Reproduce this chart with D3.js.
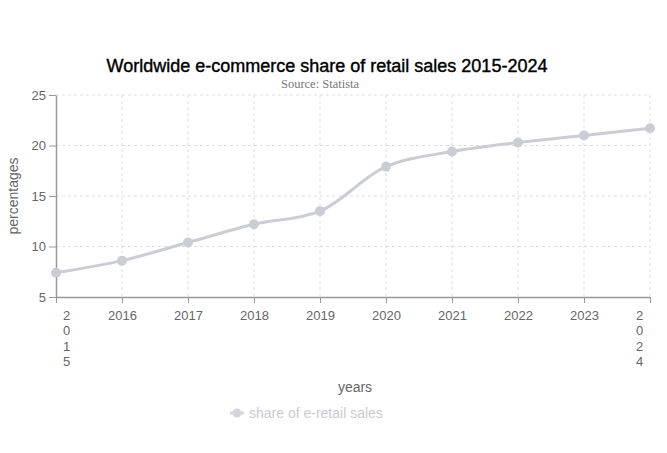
<!DOCTYPE html>
<html>
<head>
<meta charset="utf-8">
<script src="https://cdn.jsdelivr.net/npm/d3@7"></script>
<style>
  body { margin: 0; background: #fff; }
  svg { font-family: "Liberation Sans", Arial, sans-serif; }
</style>
</head>
<body>
<div id="chart"></div>
<script>
// Data
const years = ["2015", "2016", "2017", "2018", "2019", "2020", "2021", "2022", "2023", "2024"];
const share = [7.4, 8.6, 10.4, 12.2, 13.5, 17.9, 19.4, 20.3, 21.0, 21.7];
const yTicks = [5, 10, 15, 20, 25];

const W = 667, H = 453;
const margin = {top: 95, right: 17, bottom: 156, left: 56};

const svg = d3.select("#chart")
  .append("svg")
  .attr("width", W)
  .attr("height", H);

// Scales
const x = d3.scalePoint()
  .domain(years)
  .range([margin.left, W - margin.right]);
const y = d3.scaleLinear()
  .domain([5, 25])
  .range([H - margin.bottom, margin.top]);

// Grid
const grid = svg.append("g");
grid.selectAll("line.v")
  .data(years.slice(1))
  .join("line")
  .attr("x1", d => x(d)).attr("x2", d => x(d))
  .attr("y1", y(25)).attr("y2", y(5))
  .attr("stroke", "#ddd")
  .attr("stroke-dasharray", "3,3");
grid.selectAll("line.h")
  .data(yTicks.slice(1))
  .join("line")
  .attr("x1", x(years[0])).attr("x2", x(years[years.length - 1]))
  .attr("y1", d => y(d)).attr("y2", d => y(d))
  .attr("stroke", "#ddd")
  .attr("stroke-dasharray", "3,3");

// Axes
const xAxis = svg.append("g")
  .attr("transform", `translate(0,${y(5)})`)
  .call(d3.axisBottom(x).tickSize(6).tickSizeOuter(0));
const yAxis = svg.append("g")
  .attr("transform", `translate(${margin.left},0)`)
  .call(d3.axisLeft(y).tickValues(yTicks).tickSize(7).tickSizeOuter(0));

[xAxis, yAxis].forEach(g => {
  g.select(".domain").attr("stroke", "#999").attr("stroke-width", 1.5);
  g.selectAll(".tick line").attr("stroke", "#999");
  g.selectAll(".tick text")
    .attr("fill", "#666")
    .style("font-size", "13px")
    .style("font-family", "'Liberation Sans', Arial, sans-serif");
});
yAxis.selectAll(".tick text").attr("x", -10);
xAxis.selectAll(".tick text").attr("dy", "1.05em");

// First and last labels are wrapped one character per line
xAxis.selectAll(".tick text")
  .filter((d, i) => i === 0 || i === years.length - 1)
  .each(function(d) {
    const t = d3.select(this);
    const dx = d === years[0] ? 10 : -11;
    t.text(null);
    d.split("").forEach((c, k) => {
      t.append("tspan")
        .attr("x", dx)
        .attr("dy", k === 0 ? "1.05em" : "1.2em")
        .text(c);
    });
  });

// Axis titles
svg.append("text")
  .attr("x", 355)
  .attr("y", 392)
  .attr("text-anchor", "middle")
  .attr("fill", "#666")
  .style("font-size", "14px")
  .text("years");

svg.append("text")
  .attr("transform", "rotate(-90)")
  .attr("x", -196)
  .attr("y", 18)
  .attr("text-anchor", "middle")
  .attr("fill", "#666")
  .style("font-size", "14px")
  .text("percentages");

// Title
svg.append("text")
  .attr("x", 327)
  .attr("y", 72)
  .attr("text-anchor", "middle")
  .attr("fill", "#000")
  .attr("stroke", "#000")
  .attr("stroke-width", 0.4)
  .style("font-size", "18px")
  .text("Worldwide e-commerce share of retail sales 2015-2024");

svg.append("text")
  .attr("x", 320)
  .attr("y", 88)
  .attr("text-anchor", "middle")
  .attr("fill", "#777")
  .style("font-size", "12.5px")
  .style("font-family", "'Liberation Serif', 'DejaVu Serif', serif")
  .text("Source: Statista");

// Line
const line = d3.line()
  .x((d, i) => x(years[i]))
  .y(d => y(d))
  .curve(d3.curveCatmullRom);

svg.append("path")
  .datum(share)
  .attr("d", line)
  .attr("fill", "none")
  .attr("stroke", "#c9ced6")
  .attr("stroke-width", 3);

svg.selectAll("circle.pt")
  .data(share)
  .join("circle")
  .attr("class", "pt")
  .attr("cx", (d, i) => x(years[i]))
  .attr("cy", d => y(d))
  .attr("r", 5)
  .attr("fill", "#c9ced6");

// Legend
const lg = svg.append("g").attr("transform", "translate(237,413)");
lg.append("line")
  .attr("x1", -7).attr("x2", 7)
  .attr("stroke", "#d3d6dc")
  .attr("stroke-width", 3);
lg.append("circle")
  .attr("r", 4.5)
  .attr("fill", "#d3d6dc");
lg.append("text")
  .attr("x", 12)
  .attr("y", 5)
  .attr("fill", "#c8ccd3")
  .style("font-size", "14px")
  .text("share of e-retail sales");
</script>
</body>
</html>
